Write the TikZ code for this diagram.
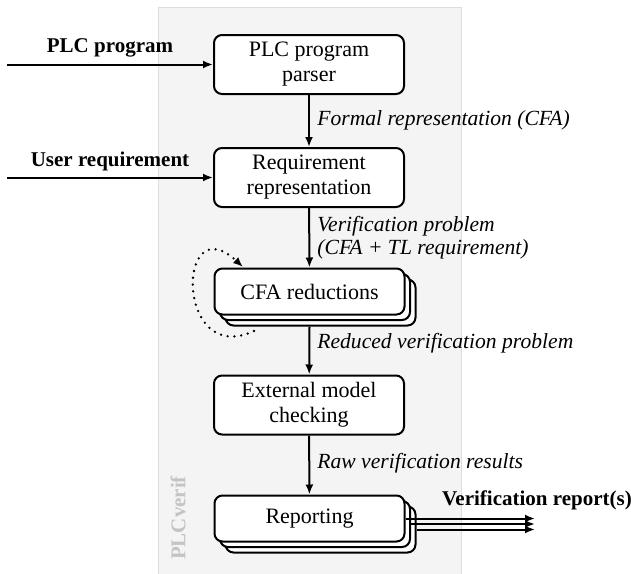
\documentclass[tikz,border=0pt]{standalone}
\usepackage{fontspec}
\setmainfont{Liberation Serif}
\usetikzlibrary{arrows.meta}
\definecolor{bgfill}{HTML}{F4F4F4}
\definecolor{bgline}{HTML}{DDDDDD}
\definecolor{tagcol}{HTML}{C4C4C4}
\begin{document}
\begin{tikzpicture}[x=0.5pt,y=-0.5pt,
  txt/.style={font=\fontsize{11}{12.5}\selectfont},
  box/.style={txt, draw, fill=white, rounded corners=4pt, line width=1pt,
    minimum width=95pt, align=center, inner sep=0pt},
  boxtwo/.style={box, minimum height=29.5pt},
  boxone/.style={box, minimum height=23pt},
  flow/.style={line width=1pt, -{Latex[length=5pt,width=4pt]}},
  lbl/.style={font=\fontsize{10.8}{11.8}\selectfont\itshape, align=left, inner sep=0pt},
  inlbl/.style={font=\fontsize{10.5}{12.5}\selectfont\bfseries, inner sep=0pt},
]
\useasboundingbox (0,0) rectangle (631,573);
\filldraw[fill=bgfill, draw=bgline, line width=0.5pt] (158,7) rectangle (461,575);
\node[font=\fontsize{10.5}{12.5}\selectfont\bfseries, text=tagcol, rotate=90] (tag) at (178,518) {PLCverif};

% boxes
\node[boxtwo] (parser) at (309,64.5) {PLC program\\parser};
\node[boxtwo] (req) at (309,177.5) {Requirement\\representation};
\node[boxone] (cfa2) at (320.5,302.5) {};
\node[boxone] (cfa1) at (315,297) {};
\node[boxone] (cfa) at (309.5,291.5) {CFA reductions};
\node[boxtwo] (ext) at (309,405) {External model\\checking};
\node[boxone] (rep2) at (320.5,529.5) {};
\node[boxone] (rep1) at (315,524) {};
\node[boxone] (rep) at (309.5,518.5) {Reporting};

% inputs
\coordinate (in1) at (7,64.5);
\coordinate (in2) at (7,177.5);
\draw[flow] (in1) -- (parser.west);
\draw[flow] (in2) -- (req.west);
\node[inlbl, anchor=base] (l1) at (110,52) {PLC program};
\node[inlbl, anchor=base] (l2) at (110,166) {User requirement};

% main flow
\draw[flow] (parser) -- (req);
\draw[flow] (req) -- (cfa);
\draw[flow] (cfa2.south -| cfa.south) -- (ext);
\draw[flow] (ext) -- (rep);
\node[lbl, anchor=base west] (f1) at (317,125) {Formal representation (CFA)};
\node[lbl, anchor=west] (f2) at (317,237.5) {Verification problem\\(CFA + TL requirement)};
\node[lbl, anchor=base west] (f3) at (317,348) {Reduced verification problem};
\node[lbl, anchor=base west] (f4) at (317,468) {Raw verification results};

% loop
\draw[line width=1.3pt, dash pattern=on 0pt off 3.4pt, line cap=round,
  -{Latex[length=5pt,width=4pt]}]
  (254,331) .. controls (175,368) and (176,205) .. (243,267);

% outputs
\coordinate (o0) at (535,518.5);
\coordinate (o1) at (535,524);
\coordinate (o2) at (535,529.5);
\draw[flow] (rep2.east) -- (o2);
\draw[flow] (rep1.east) -- (o1);
\draw[flow] (rep.east) -- (o0);
\node[inlbl, anchor=base] (lout) at (537,505) {Verification report(s)};
\end{tikzpicture}
\end{document}
